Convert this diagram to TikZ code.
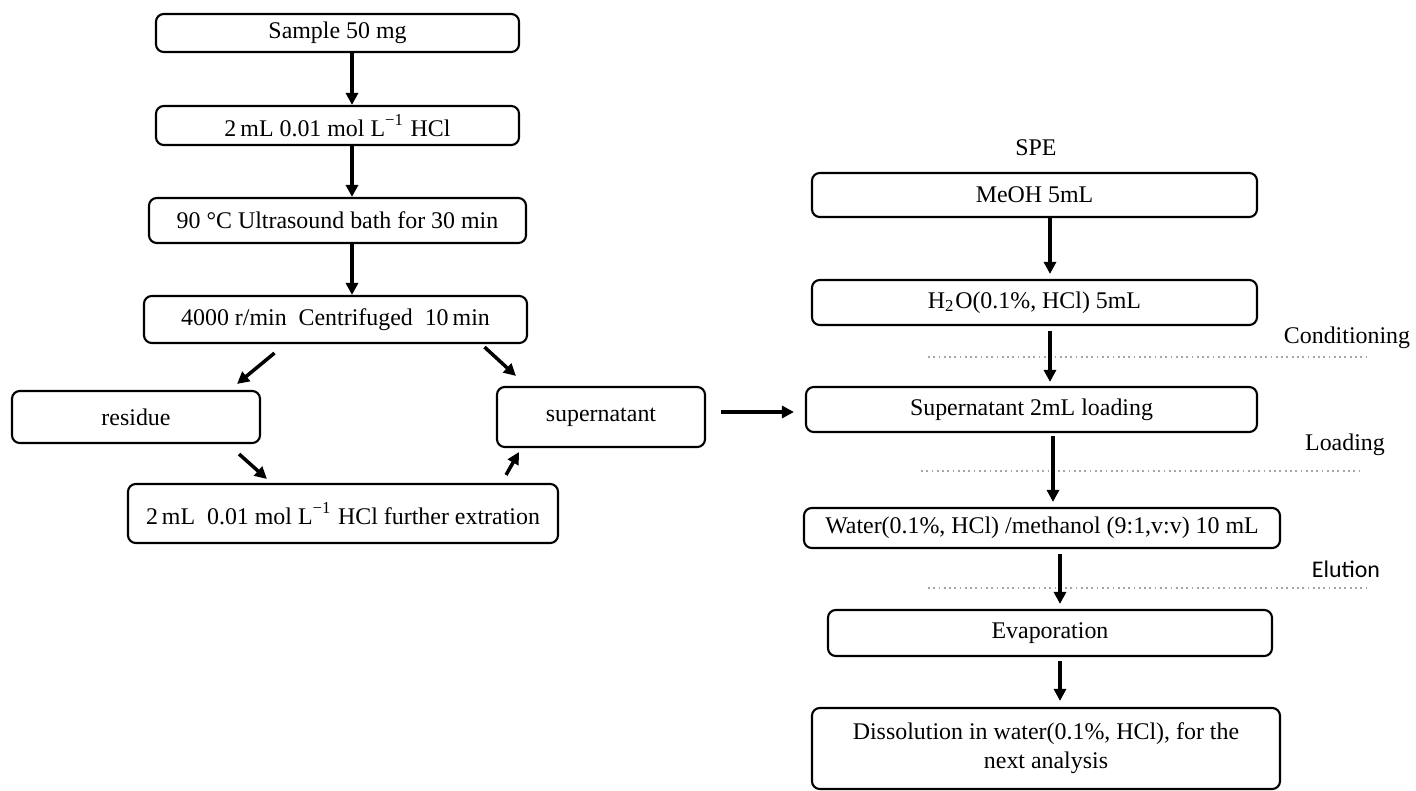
\documentclass[tikz,border=0pt]{standalone}
\usepackage{fontspec}
\setmainfont{Liberation Serif}
\newfontfamily\labelsans{Carlito}
\usepackage{tikz}
\usetikzlibrary{calc,arrows.meta}

\begin{document}
\begin{tikzpicture}[
  box/.style ={draw=black, rounded corners=2.2pt, line width=0.6pt,
               inner sep=0pt, font=\fontsize{6.8}{8.2}\selectfont, align=center},
  arr/.style ={-{Triangle[length=0.12cm,width=0.12cm]}, line width=1pt},
  sep/.style ={gray!70, line width=0.5pt, densely dotted},
  lbl/.style ={font=\fontsize{6.8}{8}\selectfont}
]
  \useasboundingbox (0,0) rectangle (14.16,-7.91);

  %% ── Left column: extraction ───────────────────────────────────────────
  \node[box, minimum width=3.63cm, minimum height=0.38cm] (smp)  at (3.375,-0.33)  {Sample 50 mg};
  \node[box, minimum width=3.63cm, minimum height=0.39cm] (hcl)  at (3.375,-1.255) {2\,mL 0.01 mol L\textsuperscript{−1} HCl};
  \node[box, minimum width=3.77cm, minimum height=0.45cm] (us)   at (3.375,-2.205) {90 °C Ultrasound bath for 30 min};
  \node[box, minimum width=3.83cm, minimum height=0.47cm] (cf)   at (3.355,-3.195) {4000 r/min\ \ Centrifuged\ \ 10\,min};
  \node[box, minimum width=2.48cm, minimum height=0.52cm] (res)  at (1.36,-4.17)   {residue};
  \node[box, minimum width=2.08cm, minimum height=0.60cm] (sup)  at (6.01,-4.17)   {supernatant};
  \node[box, minimum width=4.30cm, minimum height=0.59cm] (ext)  at (3.43,-5.135)  {2\,mL\ \ 0.01 mol L\textsuperscript{−1} HCl further extration};

  %% ── Right column: SPE ─────────────────────────────────────────────────
  \node[lbl] (spe) at (10.36,-1.48) {SPE};
  \node[box, minimum width=4.45cm, minimum height=0.44cm] (meoh) at (10.345,-1.95)  {MeOH 5mL};
  \node[box, minimum width=4.45cm, minimum height=0.45cm] (wat)  at (10.345,-3.025) {H\textsubscript{2}O(0.1\%, HCl) 5mL};
  \node[box, minimum width=4.51cm, minimum height=0.45cm] (load) at (10.315,-4.095) {Supernatant 2mL loading};
  \node[box, minimum width=4.76cm, minimum height=0.40cm] (elu)  at (10.42,-5.28)   {Water(0.1\%, HCl) /methanol (9:1,v:v) 10 mL};
  \node[box, minimum width=4.44cm, minimum height=0.46cm] (evap) at (10.50,-6.33)   {Evaporation};
  \node[box, minimum width=4.68cm, minimum height=0.81cm] (diss) at (10.46,-7.485)
    {Dissolution in water(0.1\%, HCl), for the\\next analysis};

  %% ── Step labels and dotted separators ─────────────────────────────────
  \node[lbl] (lcon) at (13.47,-3.38) {Conditioning};
  \node[lbl] (lload) at (13.45,-4.45) {Loading};
  \node[lbl, font=\labelsans\fontsize{6.8}{8}\selectfont] (lelu) at (13.46,-5.69) {Elution};
  \draw[sep] (9.28,-3.57) -- (13.66,-3.57);
  \draw[sep] (9.21,-4.71) -- (13.60,-4.71);
  \draw[sep] (9.28,-5.88) -- (13.66,-5.88);

  %% ── Extraction arrows ─────────────────────────────────────────────────
  \draw[arr] ($(smp.south)+(0.145,0)$) -- ($(hcl.north)+(0.145,0)$);
  \draw[arr] ($(hcl.south)+(0.145,0)$) -- ($(us.north)+(0.145,0)$);
  \draw[arr] ($(us.south)+(0.145,0)$)  -- ($(cf.north)+(0.165,0)$);

  %% ── Split to residue / supernatant, then re-extraction ────────────────
  \draw[arr] ($(cf.south)+(-0.61,-0.09)$) -- ($(res.north east)+(-0.24,0.06)$);
  \draw[arr] ($(cf.south)+(1.49,-0.03)$)  -- ($(sup.north west)+(0.20,0.10)$);
  \draw[arr] ($(res.south east)+(-0.22,-0.10)$) -- ($(ext.north west)+(1.40,0.04)$);
  \draw[arr] ($(ext.north east)+(-0.53,0.08)$)  -- ($(sup.south west)+(0.23,-0.04)$);

  %% ── Supernatant → SPE loading ─────────────────────────────────────────
  \draw[arr] ($(sup.east)+(0.15,0.05)$) -- ($(load.west)+(-0.11,-0.025)$);

  %% ── SPE arrows ────────────────────────────────────────────────────────
  \draw[arr] ($(meoh.south)+(0.155,0)$) -- ($(wat.north)+(0.155,0.05)$);
  \draw[arr] ($(wat.south)+(0.155,-0.05)$) -- ($(load.north)+(0.185,0.04)$);
  \draw[arr] ($(load.south)+(0.215,-0.03)$) -- ($(elu.north)+(0.11,0.05)$);
  \draw[arr] ($(elu.south)+(0.18,-0.05)$) -- ($(evap.north)+(0.10,0.05)$);
  \draw[arr] ($(evap.south)+(0.10,-0.04)$) -- ($(diss.north)+(0.14,0.06)$);

\end{tikzpicture}
\end{document}
